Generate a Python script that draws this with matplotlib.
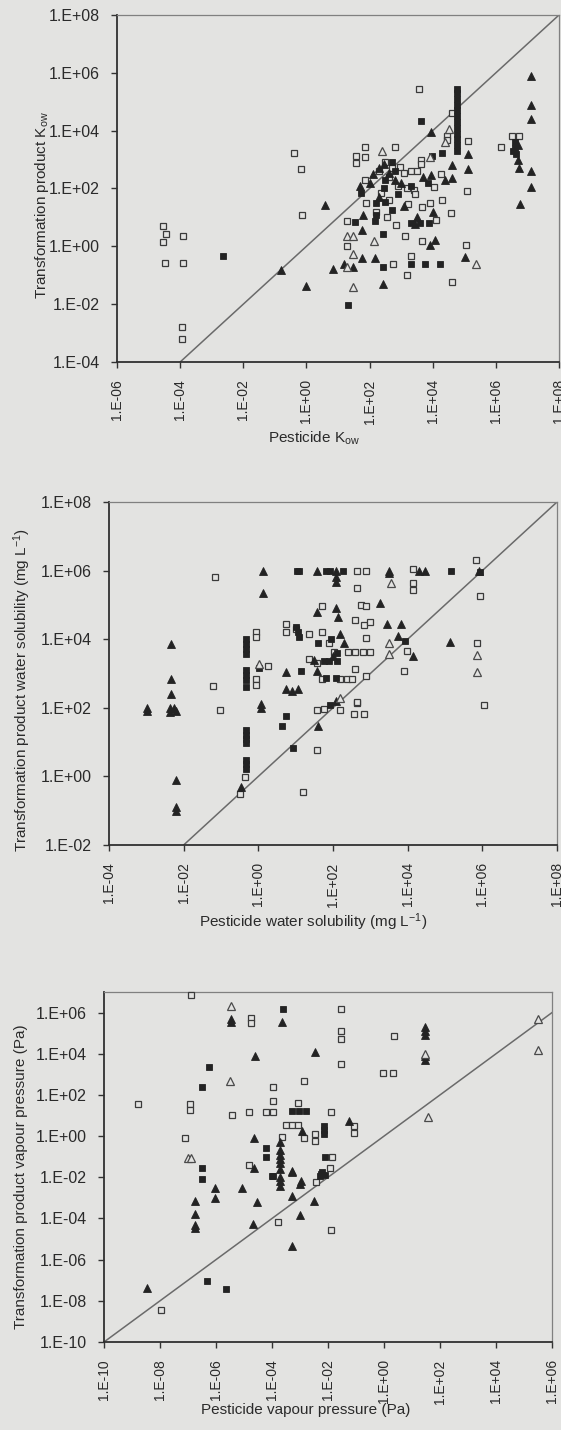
import numpy as np
import matplotlib
matplotlib.use("Agg")
import matplotlib.pyplot as plt
from matplotlib.ticker import FuncFormatter, NullLocator

plt.rcParams['font.family'] = ['Liberation Sans', 'DejaVu Sans']
plt.rcParams['mathtext.fontset'] = 'custom'
plt.rcParams['mathtext.rm'] = 'Liberation Sans'
plt.rcParams['mathtext.it'] = 'Liberation Sans'

# values are log10 exponents

# --- panel 1: Kow ---
kow_osq_x = [3.58, 4.6, 4.46, 4.46, 5.11, 1.87, 2.8, -0.38, -0.17, 1.57, 1.57, 1.87, 3.62, 3.62, 6.17, 6.5, 6.72,
             5.08, -0.15, -4.54, -4.45, -4.54, -3.92, -4.48, -3.92, -3.94, -3.94, 1.28, 1.28, 2.83, 3.11, 3.3, 2.75,
             3.19, 3.65, 4.6, 5.05, 4.57, 3.67, 3.22, 1.87, 2.3, 2.5, 2.7, 2.95, 3.1, 3.3, 3.5, 2.6, 2.9, 3.2, 3.4,
             2.35, 2.6, 3.45, 4.25, 4.05, 3.9, 2.2, 2.55, 1.9, 4.3, 4.1]
kow_osq_y = [5.45, 4.6, 3.83, 3.66, 3.63, 3.45, 3.45, 3.22, 2.66, 3.14, 2.89, 3.09, 3.0, 2.86, 3.45, 3.83, 3.83,
             1.92, 1.07, 0.69, 0.44, 0.15, 0.35, -0.57, -0.57, -2.79, -3.19, 0.88, 0.0, 0.73, 0.35, -0.35, -0.6,
             -1.0, 0.18, -1.23, 0.03, 1.15, 1.36, 1.45, 2.3, 2.6, 2.9, 2.7, 2.75, 2.55, 2.6, 2.6, 2.4, 2.1, 2.0, 1.95,
             1.85, 1.6, 1.8, 2.5, 2.05, 1.5, 1.2, 1.0, 1.5, 1.6, 0.9]
kow_fsq_x = [4.78, 4.78, 4.78, 4.78, 4.78, 4.78, 4.78, 4.78, 4.78, 4.78, 4.78, 4.78, 3.62, 3.98, 4.29, 6.6, 6.6,
             6.65, 6.55, 1.72, -2.63, 1.54, 2.16, 2.44, 3.3, 3.6, 3.87, 3.31, 3.76, 4.24, 2.44, 1.33, 2.19, 2.19,
             2.72, 2.5, 2.5, 2.8, 2.45, 3.3, 2.9, 2.7, 3.85]
kow_fsq_y = [5.45, 5.3, 5.1, 4.9, 4.7, 4.5, 4.3, 4.1, 3.9, 3.7, 3.5, 3.3, 4.34, 3.14, 3.23, 3.6, 3.4,
             3.2, 3.3, 1.83, -0.35, 0.84, 0.88, 0.44, 0.8, 0.8, 0.8, -0.6, -0.6, -0.6, -0.72, -2.04, 1.5, 1.1,
             1.25, 1.53, 2.3, 2.6, 2.0, 2.1, 1.8, 2.9, 2.2]
kow_ftri_x = [3.96, 5.11, 5.11, 2.46, 4.6, 4.6, 4.4, 7.1, 7.1, 7.1, 6.73, 7.1, 7.1, 6.77, 6.7, 6.7, 0.58, -0.79,
              0.0, 1.78, 1.76, 0.84, 1.2, 1.48, 1.76, 2.16, 2.41, 3.9, 4.07, 5.02, 3.45, 2.1, 2.3, 2.6, 3.0, 3.7,
              3.95, 2.0, 2.8, 1.7, 4.0, 3.1, 2.3, 3.5]
kow_ftri_y = [3.94, 3.2, 2.66, 2.86, 2.8, 2.35, 2.3, 5.9, 4.9, 4.42, 2.7, 2.6, 2.06, 1.45, 3.5, 3.0, 1.42, -0.83,
              -1.38, 1.07, 0.55, -0.77, -0.6, -0.72, -0.39, -0.39, -1.29, 0.03, 0.21, -0.37, 0.78, 2.5, 2.7, 2.55,
              2.2, 2.4, 2.45, 2.2, 2.3, 2.1, 1.2, 1.4, 1.7, 1.0]
kow_otri_x = [4.52, 1.28, 1.48, 1.48, 2.13, 5.36, 1.48, 1.3, 4.4, 2.4, 3.9]
kow_otri_y = [4.06, 0.35, 0.35, -0.25, 0.18, -0.62, -1.41, -0.7, 3.6, 3.3, 3.1]

# --- panel 2: water solubility ---
ws_osq_x = [4.13, 2.63, 2.89, 5.82, -1.15, 2.63, 4.13, 4.13, 5.95, 2.75, 2.89, 1.7, 2.6, 2.84, 3.0, 0.73, 0.73,
            -0.05, -0.05, 1.37, 1.7, 2.89, 5.85, 2.03, 2.4, 2.6, 2.8, 3.0, 3.99, 1.37, 1.56, 0.25, 1.7, 2.18, 2.37,
            2.52, 2.6, 2.89, 3.91, -0.05, -0.05, -1.21, 2.65, 6.04, -1.02, 1.56, 1.75, 2.18, 2.56, 2.84, 2.63,
            1.58, -0.37, -0.5, 1.2, 1.0, 1.9]
ws_osq_y = [6.05, 6.0, 5.98, 6.31, 5.8, 5.5, 5.63, 5.43, 5.25, 5.0, 4.98, 4.96, 4.57, 4.42, 4.5, 4.45, 4.2,
            4.22, 4.05, 4.16, 4.2, 4.04, 3.88, 3.62, 3.64, 3.63, 3.62, 3.62, 3.65, 3.42, 3.32, 3.23, 2.83, 2.83, 2.83,
            2.83, 3.13, 2.92, 3.06, 2.85, 2.67, 2.64, 2.15, 2.08, 1.94, 1.95, 1.97, 1.95, 1.81, 1.81, 2.16,
            0.76, -0.01, -0.52, -0.46, 4.3, 3.9]
ws_fsq_x = [1.03, 1.1, 1.8, 1.92, 2.27, 5.16, 5.95, 1.0, 1.05, 1.1, -0.32, -0.32, -0.32, -0.32, 1.6, 3.94, 1.75,
            1.9, 2.1, 0.03, 1.15, 1.8, 2.08, -0.32, -0.32, -0.32, -0.32, 1.92, 0.74, 0.63, -0.32, -0.32, -0.32,
            -0.32, -0.32, -0.32, -0.32, 0.94, 2.1, 1.95]
ws_fsq_y = [6.0, 6.0, 6.0, 6.0, 6.0, 5.98, 5.97, 4.35, 4.2, 4.05, 4.0, 3.85, 3.7, 3.56, 3.9, 3.96, 3.37,
            3.37, 3.37, 3.16, 3.08, 2.88, 2.88, 3.1, 2.95, 2.8, 2.6, 2.07, 1.75, 1.46, 1.34, 1.2, 1.08,
            0.96, 0.47, 0.35, 0.23, 0.83, 3.6, 4.0]
ws_ftri_x = [0.12, 1.56, 2.08, 3.51, 3.51, 4.47, 4.3, 5.9, 0.12, 2.08, 2.08, 3.27, 1.58, 2.08, 2.13, 3.45, 3.83,
             -2.34, 2.18, 3.75, 5.13, 4.13, 0.73, 1.56, -2.34, -2.34, 0.73, 0.9, 1.06, 0.08, 2.08, -2.98, -2.98,
             -2.36, -2.25, -2.36, -2.2, 0.08, 1.6, -2.21, -2.21, -2.21, -0.47, 2.3, 1.5, 2.0]
ws_ftri_y = [6.0, 6.0, 6.0, 6.0, 5.94, 6.0, 6.0, 6.0, 5.36, 5.82, 5.68, 5.06, 4.8, 4.9, 4.65, 4.43, 4.43,
             3.86, 4.16, 4.08, 3.93, 3.52, 3.03, 3.08, 2.83, 2.39, 2.55, 2.5, 2.55, 2.12, 2.2, 2.0, 1.92,
             2.0, 2.0, 1.87, 1.9, 2.0, 1.46, -0.11, -0.88, -1.02, -0.32, 3.9, 3.4, 3.5]
ws_otri_x = [3.56, 3.51, 5.85, 5.85, 3.51, 0.03, 2.2]
ws_otri_y = [5.63, 3.88, 3.54, 3.05, 3.57, 3.29, 2.3]

# --- panel 3: vapour pressure ---
vp_osq_x = [-6.9, -4.74, -4.74, -1.52, -1.52, -1.52, -1.52, 0.36, -0.05, 0.33, -3.98, -2.86, -8.79, -6.94, -6.94,
            -5.43, -4.83, -4.22, -3.97, -3.97, -3.07, -1.9, -3.5, -3.28, -3.07, -1.07, -1.07, -2.86, -2.47, -2.47,
            -7.1, -3.65, -1.84, -4.83, -1.93, -2.44, -3.79, -1.9, -7.96]
vp_osq_y = [6.87, 5.75, 5.5, 6.17, 5.1, 4.7, 3.5, 4.88, 3.06, 3.06, 2.37, 2.7, 1.58, 1.54, 1.25,
            1.05, 1.16, 1.16, 1.7, 1.16, 1.6, 1.16, 0.55, 0.55, 0.55, 0.5, 0.14, -0.07, 0.1, -0.23,
            -0.1, -0.02, -1.01, -1.39, -1.56, -2.21, -4.17, -4.54, -8.44]
vp_fsq_x = [-3.6, -6.26, -6.49, -3.3, -3.05, -2.8, -2.16, -2.16, -4.2, -4.2, -2.1, -6.5, -2.2, -2.25, -3.98, -6.5,
            -4.0, -2.28, -2.09, -6.33, -5.66, -2.16]
vp_fsq_y = [6.17, 3.36, 2.37, 1.2, 1.2, 1.2, 0.47, 0.1, -0.57, -1.01, -1.01, -1.54, -1.75, -1.85, -1.92, -2.1,
            -1.95, -1.92, -1.9, -7.04, -7.43, 0.3]
vp_ftri_x = [-5.47, -5.47, -3.65, 1.48, 1.48, 1.48, 1.48, 1.48, -4.6, -2.45, -1.26, -2.92, -4.64, -3.7, -3.7, -3.7,
             -3.7, -3.7, -3.7, -4.64, -3.3, -2.98, -6.02, -6.02, -5.06, -6.75, -6.75, -6.75, -6.75, -4.55, -4.67,
             -3.71, -3.71, -3.71, -3.3, -3.0, -3.3, -3.0, -3.3, -2.51, -8.47]
vp_ftri_y = [5.7, 5.54, 5.54, 5.3, 5.1, 4.9, 3.9, 3.7, 3.89, 4.07, 0.75, 0.27, -0.1, -0.3, -0.68, -0.9,
             -1.1, -1.3, -1.6, -1.56, -1.67, -2.17, -2.52, -3.01, -2.52, -3.13, -3.77, -4.33, -4.46, -3.21, -4.25,
             -2.0, -2.2, -2.4, -2.92, -2.32, -1.76, -3.82, -5.33, -3.13, -7.36]
vp_otri_x = [-5.47, 1.48, 1.58, 5.5, 5.5, -5.5, -7.0, -6.9]
vp_otri_y = [6.33, 4.0, 0.92, 5.67, 4.18, 2.67, -1.05, -1.05]

bg = '#e3e3e1'
dark = '#232323'
W, H = 561, 1430

fig = plt.figure(figsize=(W / 100, H / 100), dpi=100, facecolor=bg)


def exp_label(v, pos):
    return f"1.E{int(round(np.log10(v))):+03d}"


def panel(px, xlim, ylim, series, xlabel, ylabel, xl_pos, yl_pos):
    left, right, top, bottom = px
    ax = fig.add_axes([left / W, 1 - bottom / H, (right - left) / W, (bottom - top) / H])
    ax.set_facecolor(bg)
    ax.set_xscale('log')
    ax.set_yscale('log')
    ax.set_xlim(10.0 ** xlim[0], 10.0 ** xlim[1])
    ax.set_ylim(10.0 ** ylim[0], 10.0 ** ylim[1])
    ax.set_xticks(10.0 ** np.arange(xlim[0], xlim[1] + 1, 2))
    ax.set_yticks(10.0 ** np.arange(ylim[0] + (ylim[0] % 2), ylim[1] + 1, 2))
    ax.xaxis.set_minor_locator(NullLocator())
    ax.yaxis.set_minor_locator(NullLocator())
    ax.xaxis.set_major_formatter(FuncFormatter(exp_label))
    ax.yaxis.set_major_formatter(FuncFormatter(exp_label))
    ax.tick_params(which='major', direction='out', length=4.5, width=1, color='#333333',
                   labelcolor='#2a2a2a', pad=8)
    ax.tick_params(axis='y', labelsize=11.5)
    ax.tick_params(axis='x', labelsize=10, labelrotation=90)
    for s in ['left', 'bottom']:
        ax.spines[s].set_color('#303030')
        ax.spines[s].set_linewidth(1.3)
    for s in ['top', 'right']:
        ax.spines[s].set_color('#808080')
        ax.spines[s].set_linewidth(0.9)

    lo = max(xlim[0], ylim[0])
    hi = min(xlim[1], ylim[1])
    ax.plot([10.0 ** lo, 10.0 ** hi], [10.0 ** lo, 10.0 ** hi], color='#6a6a6a', lw=1.1, zorder=2)

    osq, fsq, ftri, otri = series
    ax.plot(np.power(10.0, osq[0]), np.power(10.0, osq[1]), 's', ms=5, mfc=bg, mec='#3a3a3a',
            mew=0.9, ls='none', zorder=3, clip_on=False)
    ax.plot(np.power(10.0, fsq[0]), np.power(10.0, fsq[1]), 's', ms=5, mfc=dark, mec=dark,
            mew=0.6, ls='none', zorder=4, clip_on=False)
    ax.plot(np.power(10.0, ftri[0]), np.power(10.0, ftri[1]), '^', ms=5.5, mfc=dark, mec=dark,
            mew=0.6, ls='none', zorder=4, clip_on=False)
    ax.plot(np.power(10.0, otri[0]), np.power(10.0, otri[1]), '^', ms=5.5, mfc=bg, mec='#4a4a4a',
            mew=0.9, ls='none', zorder=5, clip_on=False)

    fig.text(xl_pos[0] / W, 1 - xl_pos[1] / H, xlabel, ha='center', va='center',
             fontsize=11, color='#2a2a2a')
    fig.text(yl_pos[0] / W, 1 - yl_pos[1] / H, ylabel, ha='center', va='center', rotation=90,
             fontsize=11, color='#2a2a2a')
    return ax


panel((117, 559, 15, 362), (-6, 8), (-4, 8),
      ((kow_osq_x, kow_osq_y), (kow_fsq_x, kow_fsq_y), (kow_ftri_x, kow_ftri_y), (kow_otri_x, kow_otri_y)),
      r"Pesticide K$_{\mathrm{ow}}$", r"Transformation product K$_{\mathrm{ow}}$", (314, 438), (42, 205))

panel((109, 557, 502, 845), (-4, 8), (-2, 8),
      ((ws_osq_x, ws_osq_y), (ws_fsq_x, ws_fsq_y), (ws_ftri_x, ws_ftri_y), (ws_otri_x, ws_otri_y)),
      r"Pesticide water solubility (mg L$^{-1}$)",
      r"Transformation product water solubility (mg L$^{-1}$)", (313, 922), (22, 690))

panel((104, 552, 992, 1342), (-10, 6), (-10, 7),
      ((vp_osq_x, vp_osq_y), (vp_fsq_x, vp_fsq_y), (vp_ftri_x, vp_ftri_y), (vp_otri_x, vp_otri_y)),
      "Pesticide vapour pressure (Pa)", "Transformation product vapour pressure (Pa)", (306, 1410), (21, 1177))

fig.savefig("out.png", dpi=100, facecolor=bg)
